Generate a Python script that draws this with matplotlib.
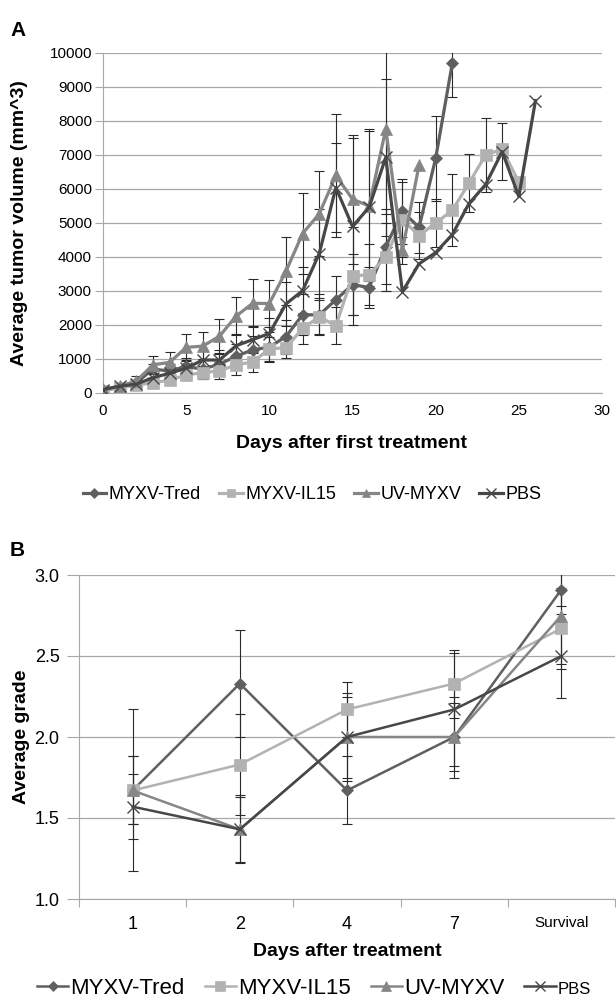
import matplotlib.pyplot as plt
import numpy as np

plt.rcParams['font.family'] = ['Liberation Sans', 'DejaVu Sans']

# ---- Panel A: tumour volume per day ----
labels = ['MYXV-Tred', 'MYXV-IL15', 'UV-MYXV', 'PBS']

tred = [90, 180, 300, 700, 650, 780, 700, 850, 1080, 1270, 1350, 1660, 2300, 2300,
        2740, 3190, 3100, 4300, 5340, 4870, 6900, 9700]
tred_err = [50, 80, 100, 150, 200, 250, 300, 300, 350, 400, 450, 500, 600, 600,
            700, 900, 600, 1100, 950, 750, 1250, 1000]

il15 = [60, 150, 230, 300, 380, 530, 600, 650, 830, 910, 1300, 1330, 1900, 2240,
        1980, 3440, 3480, 4000, 5100, 4630, 5000, 5370, 6170, 7000, 7170, 6200]
il15_err = [30, 60, 80, 100, 120, 150, 200, 250, 300, 300, 350, 300, 450, 500,
            550, 1450, 900, 1000, 1100, 700, 700, 1060, 850, 1100, 0, 0]

uv = [110, 200, 350, 830, 900, 1340, 1380, 1670, 2260, 2640, 2630, 3580, 4690, 5270,
      6400, 5700, 5500, 7760, 4200, 6700]
uv_err = [50, 100, 150, 250, 300, 400, 400, 500, 550, 700, 700, 1000, 1200, 1250,
          1800, 1900, 2200, 2500, 400, 0]

pbs = [100, 200, 260, 450, 580, 730, 970, 970, 1390, 1570, 1750, 2620, 3010, 4100,
       6040, 4900, 5460, 6930, 2980, 3800, 4130, 4660, 5570, 6130, 7100, 5780, 8600]
pbs_err = [50, 80, 100, 150, 200, 250, 300, 300, 350, 400, 450, 650, 700, 1300,
           1300, 2600, 2300, 2300, 0, 0, 0, 0, 0, 0, 850, 0, 0]

# ---- Panel B: average grade ----
cats = ['1', '2', '4', '7', 'Survival']
grade_tred = [1.67, 2.33, 1.67, 2.0, 2.91]
grade_il15 = [1.67, 1.83, 2.17, 2.33, 2.67]
grade_uv = [1.67, 1.43, 2.0, 2.0, 2.75]
grade_pbs = [1.57, 1.43, 2.0, 2.17, 2.5]
grade_tred_err = [0.5, 0.33, 0.21, 0.25, 0.1]
grade_il15_err = [0.21, 0.31, 0.17, 0.21, 0.25]
grade_uv_err = [0.21, 0.2, 0.25, 0.21, 0.3]
grade_pbs_err = [0.2, 0.21, 0.27, 0.35, 0.26]

colors = ['#5f5f5f', '#b2b2b2', '#868686', '#474747']
markers = ['D', 's', '^', 'x']
msizes = [6.5, 8, 8.5, 9]
grid_c = '#a8a8a8'
err_c = '#2a2a2a'

W, H = 616, 1000
fig = plt.figure(figsize=(W / 100, H / 100), dpi=100)


def px(x, y):
    return x / W, 1 - y / H


# ================= A =================
axA = fig.add_axes([103 / W, 1 - 393 / H, (602 - 103) / W, 340 / H])
seriesA = [(tred, tred_err), (il15, il15_err), (uv, uv_err), (pbs, pbs_err)]
for vals, errs in seriesA:
    d = np.arange(len(vals))
    e = np.array(errs, dtype=float)
    m = e > 0
    axA.errorbar(d[m], np.array(vals)[m], yerr=e[m], fmt='none', ecolor=err_c,
                 elinewidth=0.8, capsize=3.5, capthick=0.8, zorder=3)
for i, (vals, errs) in enumerate(seriesA):
    d = np.arange(len(vals))
    mew = 1.0 if markers[i] == 'x' else 0.5
    axA.plot(d, vals, color=colors[i], lw=2.3, marker=markers[i], ms=msizes[i],
             mfc=colors[i], mec=colors[i], mew=mew, zorder=4 + i)

axA.set_xlim(0, 30)
axA.set_ylim(0, 10000)
axA.set_xticks(np.arange(0, 31, 5))
axA.set_yticks(np.arange(0, 10001, 1000))
axA.yaxis.grid(True, color=grid_c, lw=0.9)
axA.set_axisbelow(True)
for s in ['top', 'right']:
    axA.spines[s].set_visible(False)
axA.spines['left'].set_color(grid_c)
axA.spines['bottom'].set_color(grid_c)
axA.tick_params(axis='y', length=6, color=grid_c, labelsize=11, pad=2)
axA.tick_params(axis='x', length=0, labelsize=11, pad=8)

fig.text(*px(10, 30), 'A', fontsize=15, fontweight='bold', va='center', ha='left')
fig.text(*px(352, 444), 'Days after first treatment', fontsize=14, fontweight='bold',
         ha='center', va='center')
fig.text(*px(20, 223), 'Average tumor volume (mm^3)', fontsize=14, fontweight='bold',
         ha='center', va='center', rotation=90)

legA = [plt.Line2D([], [], color=colors[i], lw=2.3, marker=markers[i],
                   ms=msizes[i] * 0.75, mfc=colors[i], mec=colors[i],
                   mew=1.0 if markers[i] == 'x' else 0.5) for i in range(4)]
fig.legend(legA, labels, loc='center', bbox_to_anchor=px(312, 495), ncol=4,
           frameon=False, fontsize=13, handlelength=1.3, handletextpad=0.15,
           columnspacing=1.0)

# ================= B =================
axB = fig.add_axes([79 / W, 1 - 899 / H, (615 - 79) / W, 324 / H])
seriesB = [(grade_tred, grade_tred_err), (grade_il15, grade_il15_err),
           (grade_uv, grade_uv_err), (grade_pbs, grade_pbs_err)]
xb = np.arange(len(cats))
for vals, errs in seriesB:
    axB.errorbar(xb, vals, yerr=errs, fmt='none', ecolor=err_c, elinewidth=0.8,
                 capsize=3.5, capthick=0.8, zorder=3)
for i, (vals, errs) in enumerate(seriesB):
    mew = 1.0 if markers[i] == 'x' else 0.5
    axB.plot(xb, vals, color=colors[i], lw=1.8, marker=markers[i], ms=msizes[i],
             mfc=colors[i], mec=colors[i], mew=mew, zorder=4 + i)

axB.set_xlim(-0.5, len(cats) - 0.5)
axB.set_ylim(1.0, 3.0)
axB.set_yticks(np.arange(1.0, 3.01, 0.5))
axB.set_yticklabels([f'{v:.1f}' for v in np.arange(1.0, 3.01, 0.5)])
axB.set_xticks(np.arange(-0.5, len(cats), 1.0))
axB.set_xticklabels([])
axB.set_xticks(xb, minor=True)
axB.set_xticklabels(cats, minor=True)
axB.yaxis.grid(True, color=grid_c, lw=0.9)
axB.set_axisbelow(True)
for s in ['top', 'right']:
    axB.spines[s].set_visible(False)
axB.spines['left'].set_color(grid_c)
axB.spines['bottom'].set_color(grid_c)
axB.tick_params(axis='y', length=9, color=grid_c, labelsize=13, pad=5)
axB.tick_params(axis='x', which='major', length=6, color=grid_c)
axB.tick_params(axis='x', which='minor', length=0, labelsize=13, pad=12)
for t in axB.get_xticklabels(minor=True):
    if t.get_text() == 'Survival':
        t.set_fontsize(11)

fig.text(*px(10, 551), 'B', fontsize=15, fontweight='bold', va='center', ha='left')
fig.text(*px(347, 951), 'Days after treatment', fontsize=14, fontweight='bold',
         ha='center', va='center')
fig.text(*px(22, 737), 'Average grade', fontsize=14, fontweight='bold',
         ha='center', va='center', rotation=90)

legB = [plt.Line2D([], [], color=colors[i], lw=1.8, marker=markers[i],
                   ms=msizes[i] * 0.85, mfc=colors[i], mec=colors[i],
                   mew=1.0 if markers[i] == 'x' else 0.5) for i in range(4)]
legb = fig.legend(legB, labels, loc='center', bbox_to_anchor=px(314, 988), ncol=4,
                  frameon=False, fontsize=16, handlelength=1.4, handletextpad=0.1,
                  columnspacing=0.9)
legb.get_texts()[3].set_fontsize(12)

fig.savefig('out.png', dpi=100)
